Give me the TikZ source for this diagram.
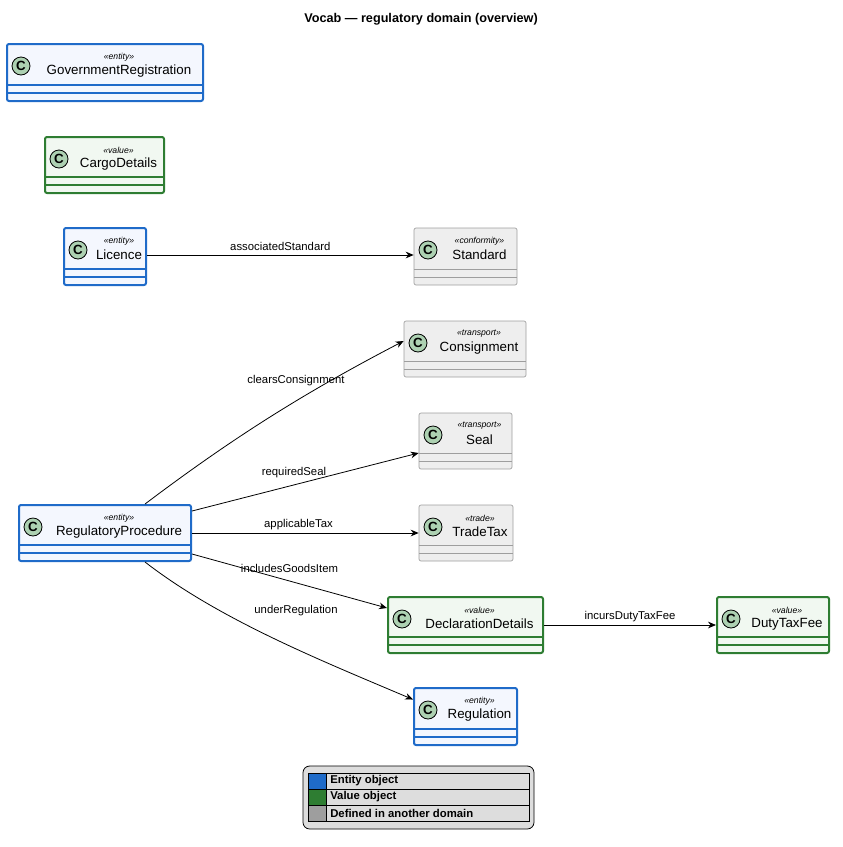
\documentclass[tikz,border=0pt]{standalone}
\usepackage{fontspec}
\setmainfont{Liberation Sans}
\usetikzlibrary{arrows.meta,positioning,calc,backgrounds}

\definecolor{entityblue}{HTML}{1F6BC9}
\definecolor{entityfill}{HTML}{F4F7FE}
\definecolor{valuegreen}{HTML}{2E7D32}
\definecolor{valuefill}{HTML}{F1F8F1}
\definecolor{otherline}{HTML}{9E9E9E}
\definecolor{otherfill}{HTML}{EEEEEE}
\definecolor{iconfill}{HTML}{ADD1B2}
\definecolor{legendfill}{HTML}{DDDDDD}

% #1 name, #2 style, #3 x1, #4 y1, #5 x2, #6 y2, #7 stereotype, #8 title
\newcommand{\umlclass}[8]{
  \node[#2, minimum width={(#5-#3)*0.75pt}, minimum height={(#6-#4)*0.75pt}] (#1) at ({(#3+#5)/2},{(#4+#6)/2}) {};
  \draw[#2] (#3,#6-16) -- (#5,#6-16) (#3,#6-8) -- (#5,#6-8);
  \node[icon] (#1-icon) at (#3+14,#4+22) {C};
  \node[stereo] (#1-st) at ({(#3+28+#5)/2},#4+13) {«#7»};
  \node[classname] (#1-name) at ({(#3+28+#5)/2},#4+27) {#8};
}

\begin{document}
\begin{tikzpicture}[
    x=0.75pt, y=-0.75pt,
    entity/.style={draw=entityblue, fill=entityfill, line width=1.5pt, rounded corners=1.5pt},
    value/.style={draw=valuegreen, fill=valuefill, line width=1.5pt, rounded corners=1.5pt},
    other/.style={draw=otherline, fill=otherfill, line width=0.5pt, rounded corners=1.5pt},
    icon/.style={circle, draw=black, line width=0.6pt, fill=iconfill, minimum size=13.5pt, inner sep=0pt, font=\bfseries\fontsize{10}{10}\selectfont},
    stereo/.style={inner sep=0pt, font=\itshape\fontsize{6.5}{7}\selectfont},
    classname/.style={inner sep=0pt, font=\fontsize{10}{11}\selectfont},
    assoc/.style={draw, -{Stealth[length=6pt,width=5pt]}, line width=0.6pt},
    edgelabel/.style={inner sep=0pt, font=\fontsize{8.5}{9}\selectfont},
    legendrow/.style={anchor=west, inner sep=0pt, font=\bfseries\fontsize{8.5}{9}\selectfont},
]
\useasboundingbox (0,0) rectangle (843,847);

\node[font=\bfseries\fontsize{9.5}{10}\selectfont] (title) at (421,19) {Vocab — regulatory domain (overview)};

\umlclass{govreg}{entity}{7}{44}{203}{101}{entity}{GovernmentRegistration}
\umlclass{cargo}{value}{45}{137}{164}{193}{value}{CargoDetails}
\umlclass{licence}{entity}{64}{228}{146}{285}{entity}{Licence}
\umlclass{standard}{other}{414}{228}{517}{285}{conformity}{Standard}
\umlclass{consignment}{other}{404}{321}{526}{377}{transport}{Consignment}
\umlclass{seal}{other}{419}{413}{512}{469}{transport}{Seal}
\umlclass{regproc}{entity}{19}{505}{191}{561}{entity}{RegulatoryProcedure}
\umlclass{tradetax}{other}{419}{505}{513}{561}{trade}{TradeTax}
\umlclass{decl}{value}{388}{597}{543}{653}{value}{DeclarationDetails}
\umlclass{dutytax}{value}{717}{597}{829}{653}{value}{DutyTaxFee}
\umlclass{regulation}{entity}{414}{688}{517}{745}{entity}{Regulation}

% associations
\draw[assoc] (licence.east |- licence-name) -- node[edgelabel, above=3pt] {associatedStandard} (standard.west |- licence-name);
\draw[assoc] ($(regproc.north)+(40,0)$) .. controls (230,440) and (300,395) .. ($(consignment.west)+(0,-8)$);
\node[edgelabel] (lbl-cons) at (296,381) {clearsConsignment};
\draw[assoc] ($(regproc.north east)+(0,7)$) -- node[edgelabel, above=5pt, pos=0.45] {requiredSeal} ($(seal.west)+(0,12)$);
\draw[assoc] ($(regproc.east)+(0,0)$) -- node[edgelabel, above=2pt, pos=0.47] {applicableTax} (tradetax.west |- regproc.east);
\draw[assoc] ($(regproc.south east)+(0,-8)$) -- node[edgelabel, above=6pt, pos=0.5] {includesGoodsItem} ($(decl.west)+(0,-17)$);
\draw[assoc] ($(regproc.south)+(40,0)$) .. controls (220,620) and (320,660) .. ($(regulation.west)+(0,-17)$);
\node[edgelabel] (lbl-reg) at (296,611) {underRegulation};
\draw[assoc] (decl.east) -- node[edgelabel, above=2pt] {incursDutyTaxFee} (dutytax.west);

% legend
\node[draw=black, fill=legendfill, rounded corners=5pt, line width=0.6pt, minimum width={231*0.75pt}, minimum height={63*0.75pt}] (legend) at (418.5,797.5) {};
\draw[line width=0.5pt] (308,773) rectangle (529,821) (308,789) -- (529,789) (308,805) -- (529,805) (326,773) -- (326,821);
\fill[entityblue] (308.5,773.5) rectangle (325.5,788.5);
\fill[valuegreen] (308.5,789.5) rectangle (325.5,804.5);
\fill[otherline] (308.5,805.5) rectangle (325.5,820.5);
\node[legendrow] (leg-entity) at (330,781) {Entity object};
\node[legendrow] (leg-value) at (330,797) {Value object};
\node[legendrow] (leg-other) at (330,813) {Defined in another domain};
\end{tikzpicture}
\end{document}
